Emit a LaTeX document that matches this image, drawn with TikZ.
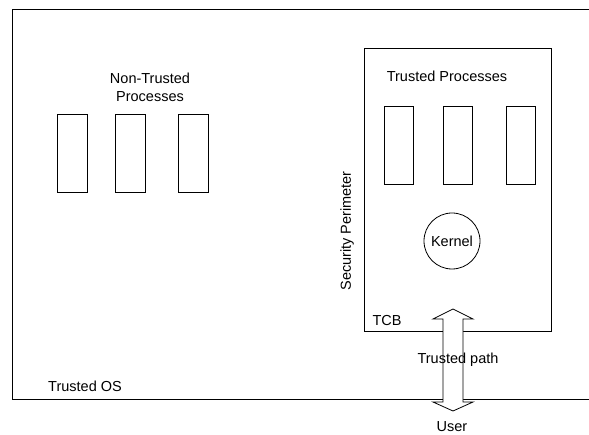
\documentclass[tikz,border=0pt]{standalone}
\usepackage{fontspec}
\setmainfont{Liberation Sans}
\begin{document}
\begin{tikzpicture}[x=1pt,y=-1pt, line width=0.8pt,
  box/.style={draw, anchor=north west, inner sep=0},
  nproc/.style={draw, minimum width=30pt, minimum height=78pt, inner sep=0},
  tproc/.style={draw, minimum width=29pt, minimum height=78pt, inner sep=0},
  lbl/.style={font=\fontsize{14.5}{18}\selectfont, inner sep=0, align=center},
  patharrow/.style={draw, fill=white, line width=0.8pt, line join=miter}]
\clip (0,0) rectangle (589,435);
\fill[white] (0,0) rectangle (589,435);
% Trusted OS (outer box, runs off the right edge)
\node[box, minimum width=620pt, minimum height=390pt] (os) at (12,9) {};
% TCB
\node[box, minimum width=187pt, minimum height=283pt] (tcb) at (364,48) {};
% non-trusted processes
\node[nproc] (n1) at (72,153) {};
\node[nproc] (n2) at (130.5,153) {};
\node[nproc] (n3) at (193.5,153) {};
% trusted processes
\node[tproc] (t1) at (398.5,145) {};
\node[tproc] (t2) at (457.5,145) {};
\node[tproc] (t3) at (520.5,145) {};
% kernel
\node[draw, circle, minimum size=56pt, inner sep=0, lbl] (kernel) at (452,241) {Kernel};
% labels
\node[lbl] (ntp) at (150,87) {Non-Trusted\\Processes};
\node[lbl] (tp) at (447,76) {Trusted Processes};
\node[lbl] (tcblbl) at (387,321) {TCB};
\node[lbl] (oslbl) at (85,386) {Trusted OS};
\node[lbl, rotate=90] (sp) at (347,231) {Security Perimeter};
\node[lbl] (user) at (452,427) {User};
% trusted path double arrow
\coordinate (ptop) at (453,309);
\coordinate (pbot) at (453,411);
\draw[patharrow] (ptop) -- ++(20,10) -- ++(-10,0) -- ++(0,83) -- ++(10,0)
  -- (pbot) -- ++(-20,-9) -- ++(10,0) -- ++(0,-83) -- ++(-10,0) -- cycle;
\node[lbl] (tpath) at (458,360) {Trusted path};
\end{tikzpicture}
\end{document}
